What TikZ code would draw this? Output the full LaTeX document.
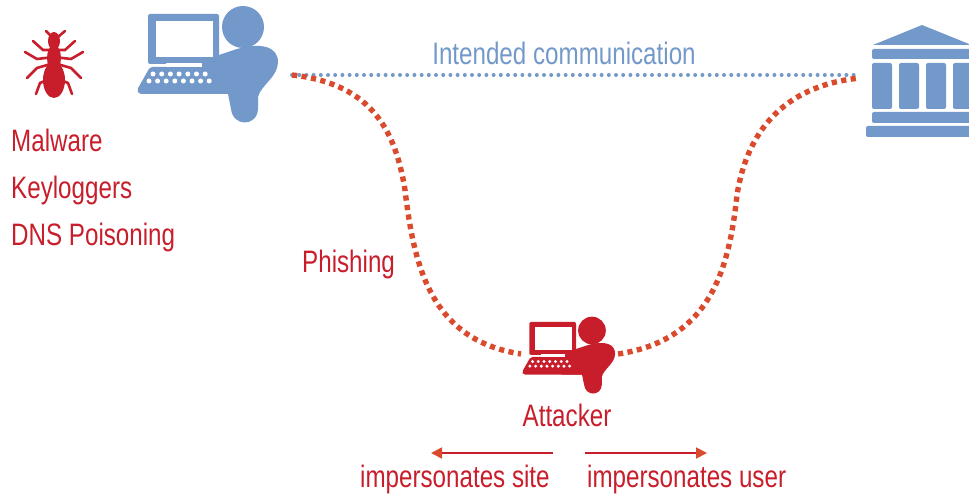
\documentclass[tikz,border=0pt]{standalone}
\usepackage{fontspec}
\setmainfont[FakeStretch=0.78]{Liberation Sans}
\usetikzlibrary{arrows.meta}
\definecolor{iconblue}{HTML}{7399CA}
\definecolor{iconred}{HTML}{C81E2B}
\definecolor{pathred}{HTML}{DA4A2C}
\tikzset{
	redlabel/.style={text=iconred,font=\fontsize{31}{31}\selectfont,inner sep=0pt},
	bluelabel/.style={text=iconblue,font=\fontsize{31}{31}\selectfont,inner sep=0pt},
	bluedots/.style={iconblue,line width=4pt,line cap=round,dash pattern=on 0pt off 7.2pt},
	reddots/.style={pathred,line width=5.4pt,dash pattern=on 5.2pt off 4.4pt},
	redarrow/.style={iconred,line width=1.8pt,-{Triangle[length=11pt,width=11pt,color=pathred]}},
	bugleg/.style={iconred,line width=2.6pt,line cap=round}
}
% user at a laptop, drawn from the top left corner of the icon
\def\usericon[#1](#2,#3)(#4){
	\begin{scope}[shift={(#2,#3)},scale=#4]
		\fill[#1] (106,22) circle (21);
		\fill[#1] (82,50) -- (100,44) .. controls (125,37) and (141,42) .. (141,57) .. controls (141,72) and (124,80) .. (121,92) -- (121,104) .. controls (120,122) and (96,122) .. (94,104) -- (91,89) -- (60,89) -- (60,50) -- cycle;
		\fill[#1,rounded corners=2pt] (11,9) rectangle (82,59);
		\fill[white] (19,16) rectangle (76,52);
		\fill[#1,rounded corners=2pt] (13,62) -- (95,62) -- (95,89) -- (2,89) -- (0,85) -- cycle;
		\fill[white] (29,58) rectangle (65,62);
		\foreach \i in {0,...,6} \fill[white] (16+\i*8.7,69) circle (2.5);
		\foreach \i in {0,...,7} \fill[white] (12+\i*8.6,76) circle (2.5);
	\end{scope}
}
\begin{document}
\begin{tikzpicture}[x=1pt,y=-1pt]
	%%%%% START %%%%%
	\useasboundingbox (0,0) rectangle (969,494);

	% bug
	\fill[iconred] (54,41) ellipse (6 and 9);
	\fill[iconred] (54,58) ellipse (7 and 13);
	\fill[iconred] (54,80) ellipse (11 and 18);
	\draw[bugleg] (46,31) -- (52,37);
	\draw[bugleg] (65,31) -- (58,37);
	\foreach \x/\s in {54/1,54/-1}{
		\draw[bugleg] ({\x+\s*-21},41) -- ({\x+\s*-11},50) -- (\x,50);
		\draw[bugleg] ({\x+\s*-29},52) -- ({\x+\s*-17},59) -- (\x,57);
		\draw[bugleg] ({\x+\s*-27},78) -- ({\x+\s*-17},68) -- (\x,63);
		\draw[bugleg] ({\x+\s*-18},94) -- ({\x+\s*-14},83) -- (\x,77);
	}

	\usericon[iconblue](137,5)(1)
	\usericon[iconred](522,316)(0.66)

	% bank
	\fill[iconblue] (873,45) -- (922,25) -- (969,44) -- (969,45) -- cycle;
	\fill[iconblue,rounded corners=2pt] (872,49) rectangle (975,59);
	\foreach \x in {872,899,926,953}
		\fill[iconblue,rounded corners=2pt] (\x,63) rectangle (\x+20,109);
	\fill[iconblue,rounded corners=2pt] (872,112) rectangle (975,123);
	\fill[iconblue,rounded corners=2pt] (866,126) rectangle (975,137);

	\coordinate (userend) at (292,75);
	\coordinate (bankend) at (860,78);
	\coordinate (attackerleft) at (521,354);
	\coordinate (attackerright) at (618,354);
	\coordinate (siteend) at (431,453);
	\coordinate (sitestart) at (553,453);
	\coordinate (userstart) at (585,453);
	\coordinate (userarrow) at (707,453);

	\draw[bluedots] (userend) -- (bankend |- userend);
	\draw[reddots] (userend) .. controls (375,84) and (396,135) .. (405,190) .. controls (414,265) and (430,340) .. (attackerleft);
	\draw[reddots] (attackerright) .. controls (710,340) and (729,270) .. (737,195) .. controls (748,125) and (790,85) .. (bankend);

	\draw[redarrow] (sitestart) -- (siteend);
	\draw[redarrow] (userstart) -- (userarrow);

	\node[bluelabel,anchor=base] (intended) at (564,65) {Intended communication};
	\node[redlabel,anchor=base west] (malware) at (11,152) {Malware};
	\node[redlabel,anchor=base west] (keyloggers) at (11,199) {Keyloggers};
	\node[redlabel,anchor=base west] (dns) at (11,246) {DNS Poisoning};
	\node[redlabel,anchor=base west] (phishing) at (302,273) {Phishing};
	\node[redlabel,anchor=base] (attacker) at (567,426) {Attacker};
	\node[redlabel,anchor=base west] (imsite) at (360,487) {impersonates site};
	\node[redlabel,anchor=base west] (imuser) at (587,487) {impersonates user};
	%%%%% START %%%%%
\end{tikzpicture}
\end{document}
